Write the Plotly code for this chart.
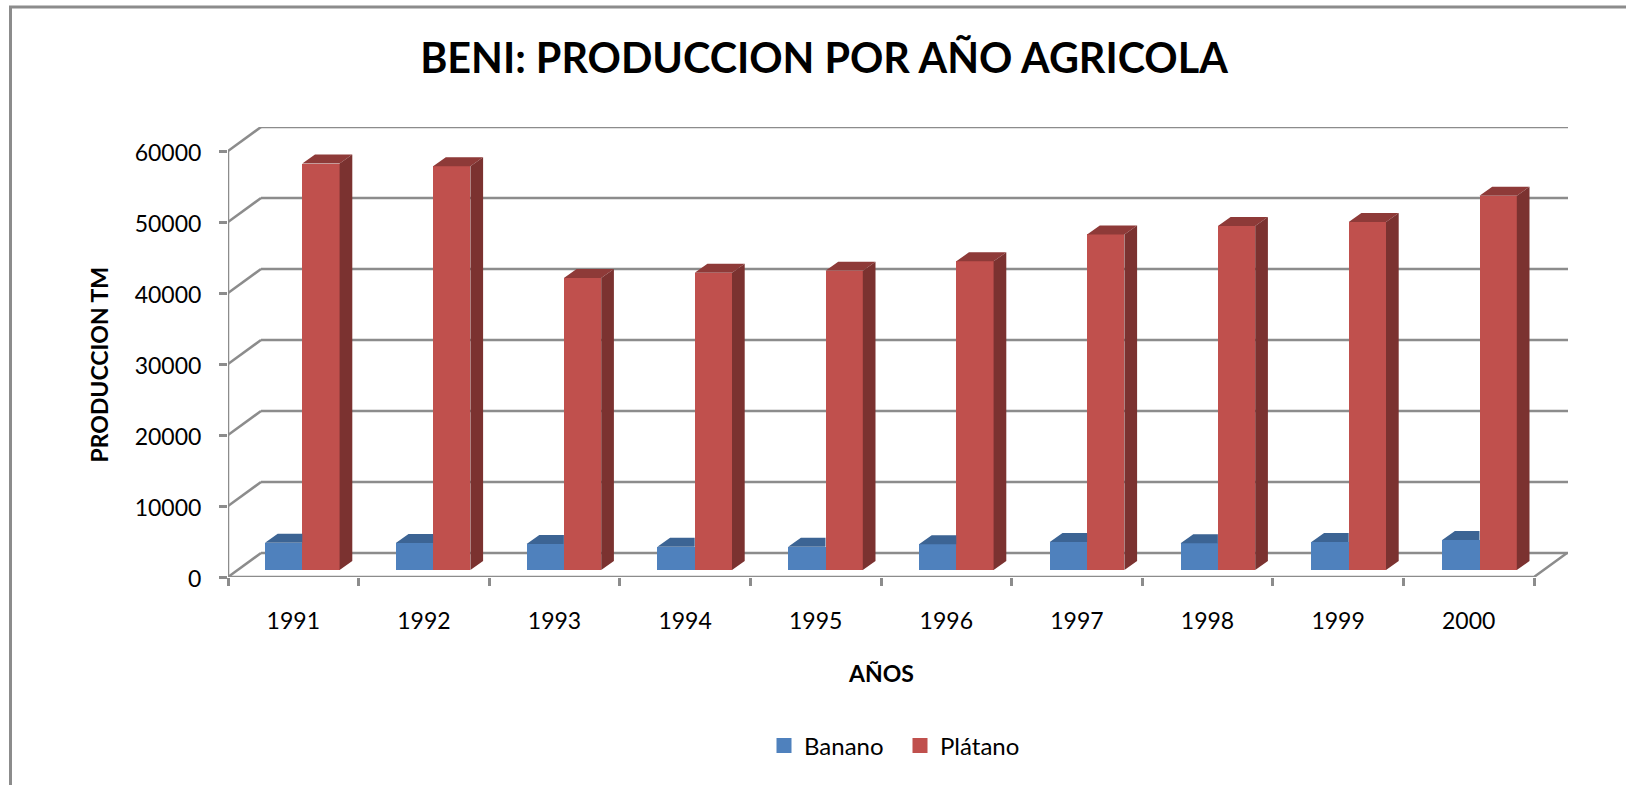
import plotly.graph_objects as go

years = ["1991", "1992", "1993", "1994", "1995", "1996", "1997", "1998", "1999", "2000"]
banano = [3850, 3800, 3660, 3280, 3280, 3620, 3940, 3760, 3950, 4230]
platano = [57250, 56860, 41130, 41870, 42150, 43480, 47270, 48450, 49000, 52720]
y_ticks = [0, 10000, 20000, 30000, 40000, 50000, 60000]

W, H = 1626, 785
L, R, T, B = 228, 1568, 127, 577      # plot area in pixels
UNIT = 130.6                          # pixels per category
PITCH = 130.8 / UNIT                  # bar spacing in categories
PER = 71 / 10000                      # pixels per production unit
WALL_DX, WALL_DY = 33 / UNIT, 24 / PER
BAR_W = 37.3 / UNIT
BAR_FX = 9.0 / UNIT
BASE = 7 / PER
DEPTH_X, DEPTH_Y = 12.7 / UNIT, 9 / PER

GRID = "#8C8C8C"
BLUE, BLUE_TOP = "#4F81BD", "#3C6494"
RED, RED_TOP, RED_SIDE = "#C0504D", "#8E3A38", "#7B3230"
n = len(years)
x_end = (R - L) / UNIT

fig = go.Figure()

blue_x = [i * PITCH + 0.5 + BAR_FX - BAR_W / 2 for i in range(n)]
red_x = [i * PITCH + 0.5 + BAR_FX + BAR_W / 2 for i in range(n)]

fig.add_trace(go.Bar(name="Banano", x=blue_x, y=banano, base=BASE, width=BAR_W,
                     marker=dict(color=BLUE, line=dict(width=0)),
                     legendgroup="b", showlegend=False))
fig.add_trace(go.Bar(name="Plátano", x=red_x, y=platano, base=BASE, width=BAR_W,
                     marker=dict(color=RED, line=dict(width=0)),
                     legendgroup="r", showlegend=False))


def poly_trace(xs, ys, color, name):
    return go.Scatter(x=xs, y=ys, mode="lines", fill="toself", fillcolor=color,
                      line=dict(width=0, color=color), hoverinfo="skip",
                      showlegend=False, name=name)


# blue top: the part behind the red bar is hidden, so it stops at the red front
bx, by = [], []
for cx, v in zip(blue_x, banano):
    l, r, top = cx - BAR_W / 2, cx + BAR_W / 2, v + BASE
    bx += [l, l + DEPTH_X, r, r, None]
    by += [top, top + DEPTH_Y, top + DEPTH_Y, top, None]
fig.add_trace(poly_trace(bx, by, BLUE_TOP, "Banano top"))

tx, ty, sx, sy = [], [], [], []
for cx, v in zip(red_x, platano):
    l, r, top = cx - BAR_W / 2, cx + BAR_W / 2, v + BASE
    tx += [l, l + DEPTH_X, r + DEPTH_X, r, None]
    ty += [top, top + DEPTH_Y, top + DEPTH_Y, top, None]
    sx += [r, r + DEPTH_X, r + DEPTH_X, r, None]
    sy += [top, top + DEPTH_Y, BASE + DEPTH_Y, BASE, None]
fig.add_trace(poly_trace(tx, ty, RED_TOP, "Plátano top"))
fig.add_trace(poly_trace(sx, sy, RED_SIDE, "Plátano side"))

# front axis lines, allowed to sit on the plot edge
fig.add_trace(go.Scatter(x=[0, 0, n, n + WALL_DX], y=[y_ticks[-1], 0, 0, WALL_DY],
                         mode="lines", line=dict(color=GRID, width=2.5), cliponaxis=False,
                         hoverinfo="skip", showlegend=False, name="axes"))

# legend keys, sized as in the reference
for name, color, group in (("Banano", BLUE, "b"), ("Plátano", RED, "r")):
    fig.add_trace(go.Scatter(x=[None], y=[None], mode="markers", name=name, legendgroup=group,
                             marker=dict(symbol="square", size=15, color=color)))

# back wall grid
shapes = []
for v in y_ticks:
    shapes.append(dict(type="line", xref="x", yref="y", layer="below",
                       x0=0, y0=v, x1=WALL_DX, y1=v + WALL_DY,
                       line=dict(color=GRID, width=2.5)))
    shapes.append(dict(type="line", xref="x", yref="y", layer="below",
                       x0=WALL_DX, y0=v + WALL_DY, x1=x_end, y1=v + WALL_DY,
                       line=dict(color=GRID, width=2.5)))
# outer chart frame
shapes.append(dict(type="rect", xref="paper", yref="paper", layer="below",
                   x0=(10.5 - L) / (R - L), x1=(W + 40 - L) / (R - L),
                   y0=(B - H - 40) / (B - T), y1=(B - 7) / (B - T),
                   line=dict(color=GRID, width=3)))


def px_x(p):
    return (p - L) / (R - L)


def px_y(p):
    return (B - p) / (B - T)


FONT = "Lato"
fig.update_layout(
    width=W, height=H, autosize=False,
    margin=dict(l=L, r=W - R, t=T, b=H - B, pad=0, autoexpand=False),
    paper_bgcolor="white", plot_bgcolor="rgba(0,0,0,0)",
    font=dict(family=FONT, color="black", size=23),
    barmode="overlay", bargap=0, shapes=shapes,
    title=dict(text="<b>BENI: PRODUCCION POR AÑO AGRICOLA</b>", x=824 / W, y=1 - 59 / H,
               xref="container", yref="container", xanchor="center", yanchor="middle",
               font=dict(family=FONT, size=41.3, color="black")),
    xaxis=dict(range=[0, x_end], tickmode="array",
               tickvals=[i + 0.5 for i in range(n)], ticktext=years, ticks="",
               ticklabelstandoff=28, showgrid=False, zeroline=False, showline=False,
               tickfont=dict(size=23),
               minor=dict(tickvals=list(range(n + 1)), ticks="outside", ticklen=8,
                          tickwidth=2.5, tickcolor=GRID, showgrid=False)),
    yaxis=dict(range=[0, y_ticks[-1] + WALL_DY], tickmode="array", tickvals=y_ticks,
               ticktext=[str(v) for v in y_ticks],
               ticks="outside", ticklen=8, tickwidth=2.5, tickcolor=GRID,
               ticklabelstandoff=13, ticklabelshift=2,
               showgrid=False, zeroline=False, showline=False, tickfont=dict(size=23)),
    annotations=[
        dict(text="<b>PRODUCCION TM</b>", xref="paper", yref="paper", x=px_x(98.5), y=px_y(365),
             textangle=-90, showarrow=False, xanchor="center", yanchor="middle",
             font=dict(size=23)),
        dict(text="<b>AÑOS</b>", xref="paper", yref="paper", x=px_x(881), y=px_y(673),
             showarrow=False, xanchor="center", yanchor="middle", font=dict(size=23)),
    ],
    legend=dict(orientation="h", x=px_x(764), y=px_y(746), entrywidth=91, entrywidthmode="pixels",
                xanchor="left", yanchor="middle", font=dict(size=24),
                bgcolor="rgba(0,0,0,0)"),
)

fig.write_html("out.html", config=dict(displayModeBar=False),
               post_script="document.body.style.margin='0';")
